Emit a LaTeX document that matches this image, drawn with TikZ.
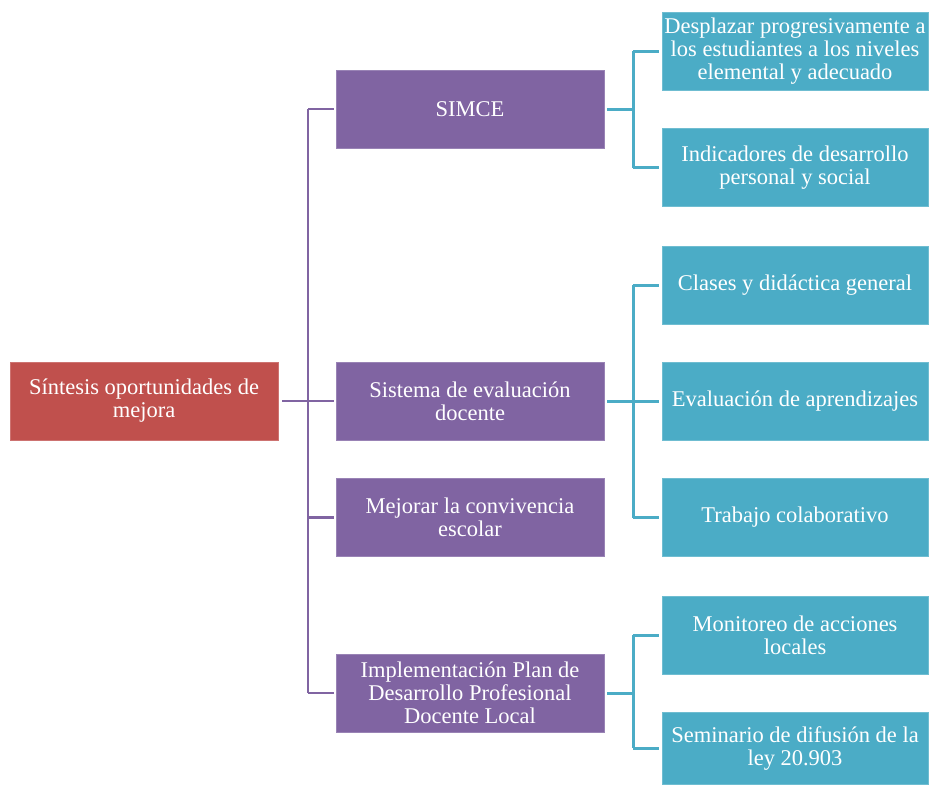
\documentclass[tikz,border=0pt]{standalone}
\usepackage{fontspec}
\setmainfont{Liberation Serif}
\begin{document}
\begin{tikzpicture}[x=1pt,y=-1pt,
  box/.style={draw=#1!80!white, line width=0.8pt, fill=#1, text=white, align=center, inner sep=0pt,
    font=\fontsize{22.5}{23}\selectfont},
  redbox/.style={box=redc, minimum width=268pt, minimum height=78pt},
  purbox/.style={box=purc, minimum width=268pt, minimum height=78pt},
  tealbox/.style={box=tealc, minimum width=266pt, minimum height=78pt},
  purline/.style={draw=purc, line width=2.8pt},
  tealline/.style={draw=tealc, line width=3pt}
]
\definecolor{redc}{HTML}{C0504D}
\definecolor{purc}{HTML}{8064A2}
\definecolor{tealc}{HTML}{4BACC6}
\useasboundingbox (0,0) rectangle (929,785);

\node[redbox] (root) at (144,401) {Síntesis oportunidades de\\mejora};

\node[purbox] (p1) at (470,109) {SIMCE};
\node[purbox] (p2) at (470,401) {Sistema de evaluación\\docente};
\node[purbox] (p3) at (470,517.5) {Mejorar la convivencia\\escolar};
\node[purbox] (p4) at (470,693) {Implementación Plan de\\Desarrollo Profesional\\Docente Local};

\node[tealbox] (t1) at (795,51) {Desplazar progresivamente a\\los estudiantes a los niveles\\elemental y adecuado};
\node[tealbox] (t2) at (795,167.5) {Indicadores de desarrollo\\personal y social};
\node[tealbox] (t3) at (795,285) {Clases y didáctica general};
\node[tealbox] (t4) at (795,401) {Evaluación de aprendizajes};
\node[tealbox] (t5) at (795,517.5) {Trabajo colaborativo};
\node[tealbox] (t6) at (795,635) {Monitoreo de acciones\\locales};
\node[tealbox, minimum height=72pt] (t7) at (795,748) {Seminario de difusión de la\\ley 20.903};

\coordinate (trunk) at (308,401);
\draw[purline] ([xshift=4pt]root.east) -- (trunk);
\draw[purline] (trunk |- p1.west) -- (trunk |- p4.west);
\foreach \p in {p1,p2,p3,p4}
  \draw[purline] (trunk |- \p.west) -- ([xshift=-2pt]\p.west);

\coordinate (b1) at (633,109);
\coordinate (b2) at (633,401);
\coordinate (b3) at (633,693);
\draw[tealline] ([xshift=3pt]p1.east) -- (b1);
\draw[tealline] (b1 |- t1.west) -- (b1 |- t2.west);
\foreach \t in {t1,t2} \draw[tealline] (b1 |- \t.west) -- ([xshift=-3pt]\t.west);
\draw[tealline] ([xshift=3pt]p2.east) -- (b2);
\draw[tealline] (b2 |- t3.west) -- (b2 |- t5.west);
\foreach \t in {t3,t4,t5} \draw[tealline] (b2 |- \t.west) -- ([xshift=-3pt]\t.west);
\draw[tealline] ([xshift=3pt]p4.east) -- (b3);
\draw[tealline] (b3 |- t6.west) -- (b3 |- t7.west);
\foreach \t in {t6,t7} \draw[tealline] (b3 |- \t.west) -- ([xshift=-3pt]\t.west);
\end{tikzpicture}
\end{document}
